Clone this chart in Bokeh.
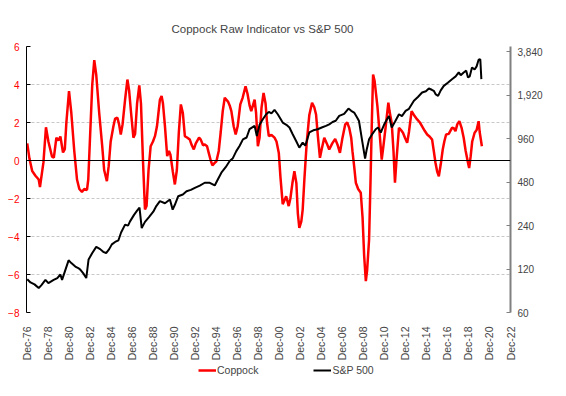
import math
from bokeh.plotting import figure
from bokeh.layouts import column
from bokeh.models import (Range1d, LogScale, LogAxis, FixedTicker, NumeralTickFormatter,
                          CustomJSTickFormatter, Span, Legend, LegendItem)
from bokeh.embed import file_html
from bokeh.resources import INLINE

FONT = "Liberation Sans"

# Coppock raw indicator (decimal year, value)
cop_date = [1976.99, 1977.20, 1977.46, 1977.77, 1978.08, 1978.20, 1978.53, 1978.77, 1979.00, 1979.35,
            1979.52, 1979.76, 1979.95, 1980.14, 1980.39, 1980.56, 1980.71, 1980.96, 1981.18, 1981.46,
            1981.72, 1981.94, 1982.19, 1982.41, 1982.67, 1982.79, 1982.98, 1983.17, 1983.36, 1983.55,
            1983.83, 1984.11, 1984.30, 1984.56, 1984.73, 1984.92, 1985.18, 1985.34, 1985.56, 1985.72,
            1985.88, 1986.05, 1986.29, 1986.51, 1986.67, 1986.86, 1987.08, 1987.24, 1987.43, 1987.64,
            1987.80, 1987.99, 1988.18, 1988.33, 1988.52, 1988.72, 1988.94, 1989.13, 1989.32, 1989.46,
            1989.60, 1989.76, 1989.89, 1990.08, 1990.29, 1990.46, 1990.60, 1990.83, 1991.02, 1991.21,
            1991.40, 1991.59, 1991.78, 1991.97, 1992.21, 1992.44, 1992.63, 1992.82, 1993.01, 1993.32,
            1993.48, 1993.70, 1993.86, 1994.08, 1994.24, 1994.43, 1994.59, 1994.76, 1994.97, 1995.19,
            1995.38, 1995.57, 1995.76, 1996.07, 1996.23, 1996.39, 1996.61, 1996.80, 1996.99, 1997.24,
            1997.46, 1997.74, 1997.93, 1998.12, 1998.28, 1998.60, 1998.74, 1998.91, 1999.07, 1999.26,
            1999.45, 1999.64, 1999.78, 1999.95, 2000.20, 2000.49, 2000.68, 2000.90, 2001.06, 2001.27,
            2001.43, 2001.60, 2001.84, 2002.00, 2002.19, 2002.38, 2002.57, 2002.71, 2002.85, 2003.04,
            2003.17, 2003.33, 2003.55, 2003.80, 2004.06, 2004.27, 2004.44, 2004.61, 2004.81, 2004.98,
            2005.22, 2005.46, 2005.69, 2005.98, 2006.26, 2006.50, 2006.71, 2006.92, 2007.21, 2007.40,
            2007.59, 2007.78, 2007.90, 2008.06, 2008.22, 2008.44, 2008.69, 2008.86, 2009.01, 2009.17,
            2009.29, 2009.48, 2009.62, 2009.74, 2009.86, 2010.00, 2010.27, 2010.47, 2010.68, 2010.85,
            2011.06, 2011.31, 2011.42, 2011.63, 2011.80, 2011.94, 2012.08, 2012.32, 2012.51, 2012.70,
            2012.89, 2013.10, 2013.27, 2013.52, 2013.74, 2014.05, 2014.31, 2014.52, 2014.78, 2015.00,
            2015.25, 2015.47, 2015.63, 2015.79, 2015.96, 2016.11, 2016.29, 2016.48, 2016.63, 2016.80,
            2017.05, 2017.36, 2017.53, 2017.69, 2017.86, 2018.06, 2018.28, 2018.47, 2018.66, 2018.88,
            2018.99, 2019.13, 2019.28, 2019.51, 2019.70, 2019.89, 2019.99, 2020.20]
cop_value = [0.9, 0.1, -0.55, -0.8, -1.0, -1.4, -0.1, 1.75, 1.0, 0.2,
             0.15, 1.2, 1.05, 1.26, 0.42, 0.6, 2.0, 3.65, 2.5, 0.5,
             -1.0, -1.5, -1.65, -1.5, -1.55, -1.0, 1.5, 4.0, 5.28, 4.5,
             2.5, 0.8, -0.5, -1.09, -0.3, 1.0, 1.8, 2.2, 2.25, 1.9,
             1.37, 1.9, 3.2, 4.26, 3.7, 2.5, 1.2, 1.4, 3.0, 3.95,
             3.0, 0.0, -2.58, -2.4, -0.5, 0.75, 1.0, 1.28, 1.8, 2.5,
             3.2, 3.4, 3.0, 1.8, 0.23, 0.5, 0.3, -0.6, -1.26, -0.5,
             1.5, 2.95, 2.5, 1.28, 1.2, 1.1, 0.8, 0.58, 0.9, 1.2,
             1.1, 0.8, 0.85, 0.75, 0.4, 0.0, -0.26, -0.15, -0.04, 0.5,
             1.5, 2.6, 3.3, 3.1, 2.9, 2.6, 1.8, 1.37, 1.8, 2.95,
             3.3, 3.9, 3.5, 2.9, 2.6, 3.2, 2.5, 0.75, 1.2, 2.8,
             3.56, 3.0, 2.0, 1.28, 1.35, 1.2, 1.0, 0.4, -0.9, -2.3,
             -2.1, -1.88, -2.4, -2.0, -1.2, -0.56, -1.2, -2.8, -3.54, -3.2,
             -2.58, -1.0, 0.93, 2.4, 3.04, 2.8, 2.42, 1.3, 0.14, 0.6,
             1.2, 0.9, 0.58, 0.9, 1.14, 0.8, 0.4, 1.1, 1.9, 2.0,
             1.72, 1.2, 0.49, -0.3, -1.17, -1.5, -1.7, -3.0, -5.0, -6.35,
             -5.8, -4.16, -1.0, 2.0, 4.53, 4.2, 2.86, 1.5, 0.05, 0.8,
             1.8, 3.04, 2.6, 1.98, 0.5, -1.17, 0.0, 1.72, 1.6, 1.46,
             1.2, 0.93, 1.5, 2.6, 2.4, 2.16, 2.0, 1.8, 1.55, 1.37,
             1.25, 1.1, 0.5, -0.12, -0.6, -0.83, -0.2, 0.58, 1.0, 1.37,
             1.4, 1.72, 1.7, 1.54, 1.9, 2.07, 1.7, 1.2, 0.5, -0.12,
             -0.4, 0.2, 1.0, 1.46, 1.6, 2.07, 1.5, 0.75]

# S&P 500 (decimal year, index level)
sp_date = [1976.99, 1977.30, 1977.68, 1978.08, 1978.34, 1978.72, 1979.00, 1979.50, 1979.85, 1980.14,
           1980.30, 1980.61, 1980.92, 1981.18, 1981.56, 1981.84, 1982.03, 1982.32, 1982.60, 1982.82,
           1983.17, 1983.55, 1983.92, 1984.21, 1984.49, 1984.78, 1985.03, 1985.34, 1985.66, 1985.91,
           1986.29, 1986.57, 1986.76, 1987.14, 1987.43, 1987.66, 1987.87, 1987.99, 1988.18, 1988.56,
           1988.97, 1989.22, 1989.60, 1990.08, 1990.55, 1990.81, 1991.02, 1991.34, 1991.78, 1992.13,
           1992.54, 1992.92, 1993.39, 1993.86, 1994.34, 1994.81, 1995.09, 1995.44, 1995.85, 1996.23,
           1996.51, 1996.86, 1997.18, 1997.49, 1997.84, 1998.12, 1998.60, 1998.81, 1999.07, 1999.38,
           1999.70, 1999.95, 2000.20, 2000.49, 2000.80, 2001.27, 2001.62, 2001.91, 2002.22, 2002.57,
           2002.85, 2003.17, 2003.42, 2003.80, 2004.18, 2004.59, 2004.98, 2005.38, 2005.69, 2006.01,
           2006.31, 2006.64, 2007.11, 2007.52, 2007.78, 2008.06, 2008.34, 2008.52, 2008.85, 2009.10,
           2009.24, 2009.48, 2009.76, 2010.11, 2010.33, 2010.59, 2010.90, 2011.18, 2011.37, 2011.63,
           2011.94, 2012.32, 2012.60, 2012.95, 2013.27, 2013.74, 2014.12, 2014.52, 2014.88, 2015.16,
           2015.44, 2015.63, 2015.82, 2016.04, 2016.29, 2016.58, 2016.96, 2017.36, 2017.71, 2018.00,
           2018.19, 2018.47, 2018.71, 2018.88, 2019.04, 2019.26, 2019.51, 2019.70, 2019.89, 2020.05,
           2020.15]
sp_value = [102, 97, 94, 88.6, 93, 101, 96, 101, 104, 110,
            101, 118, 138, 132, 125, 122, 119, 112, 104, 140,
            155, 171, 165, 158, 155, 165, 178, 185, 190, 215,
            244, 240, 257, 285, 305, 320, 231, 240, 255, 275,
            300, 325, 355, 343, 364, 310, 335, 384, 395, 416,
            425, 439, 455, 476, 476, 456, 500, 559, 610, 673,
            700, 789, 860, 952, 980, 1119, 1180, 1005, 1200, 1311,
            1421, 1474, 1440, 1522, 1421, 1244, 1200, 1150, 1033, 920,
            834, 903, 860, 1062, 1100, 1119, 1150, 1180, 1210, 1256,
            1280, 1383, 1430, 1556, 1500, 1460, 1350, 1276, 903, 700,
            800, 952, 1030, 1119, 1150, 1062, 1200, 1311, 1383, 1150,
            1260, 1421, 1380, 1498, 1550, 1760, 1870, 2010, 2050, 2144,
            2100, 2064, 1950, 1904, 2080, 2234, 2350, 2487, 2600, 2769,
            2650, 2769, 2850, 2555, 2600, 3000, 2900, 3050, 3390, 3420,
            2487]

series_names = ["Coppock", "S&P 500"]
series_colors = ["#ff0000", "black"]
left_ticks = [-8, -6, -4, -2, 0, 2, 4, 6]
right_ticks = [60, 120, 240, 480, 960, 1920, 3840]
x_ticks = [1976.92 + 2 * k for k in range(24)]  # Dec-76 ... Dec-22

p = figure(frame_width=484, frame_height=266, output_backend="svg", toolbar_location=None,
           x_range=Range1d(1976.92, 2022.92), y_range=Range1d(-8, 6),
           min_border_left=26, min_border_right=40, min_border_top=46, min_border_bottom=50)
p.extra_y_ranges = {"sp": Range1d(60, 4190)}
p.extra_y_scales = {"sp": LogScale()}

p.title.text = "Coppock Raw Indicator vs S&P 500"
p.title.align = "left"
p.title.offset = 145
p.title.text_font = FONT
p.title.text_font_size = "11.5px"
p.title.text_font_style = "normal"
p.title.standoff = 23

p.outline_line_color = None
p.background_fill_color = "white"
p.border_fill_color = "white"

# x axis
xa = p.xaxis[0]
xa.ticker = FixedTicker(ticks=x_ticks)
xa.formatter = CustomJSTickFormatter(code="""
const yr = Math.round(tick - 0.92);
const s = String(((yr % 100) + 100) % 100).padStart(2, '0');
return 'Dec-' + s;
""")
xa.major_label_orientation = math.pi / 2
xa.axis_line_color = None
xa.major_tick_line_color = None
xa.minor_tick_line_color = None
xa.major_label_text_font = FONT
xa.major_label_text_font_size = "10.5px"
xa.major_label_standoff = 8

# left axis
ya = p.yaxis[0]
ya.ticker = FixedTicker(ticks=left_ticks)
ya.major_label_text_color = "#ff0000"
ya.major_label_text_font = FONT
ya.major_label_text_font_size = "10px"
ya.axis_line_color = "black"
ya.major_tick_in = 4
ya.major_tick_out = 0
ya.minor_tick_line_color = None
ya.major_label_standoff = 7

# right log axis
ra = LogAxis(y_range_name="sp", ticker=FixedTicker(ticks=right_ticks),
             formatter=NumeralTickFormatter(format="0,0"))
ra.axis_line_color = "#808080"
ra.axis_line_width = 2
ra.major_tick_line_color = "#808080"
ra.major_tick_in = 4
ra.major_tick_out = 0
ra.minor_tick_line_color = None
ra.major_label_text_font = FONT
ra.major_label_text_font_size = "10px"
ra.major_label_standoff = 7
p.add_layout(ra, "right")

p.xgrid.grid_line_color = None
p.ygrid.ticker = FixedTicker(ticks=left_ticks)
p.ygrid.grid_line_color = "#c8c8c8"
p.ygrid.grid_line_dash = "3 2"

p.add_layout(Span(location=0, dimension="width", line_color="black", line_width=1))

p.line(cop_date, cop_value, line_color=series_colors[0], line_width=2.5)
p.line(sp_date, sp_value, line_color=series_colors[1], line_width=2, y_range_name="sp")

# legend strip (separate small figure so the legend is not clipped by the plot frame);
# its lines carry the same data but fall outside this strip's ranges, so only the legend shows
lg = figure(width=550, height=24, output_backend="svg", toolbar_location=None,
            x_range=Range1d(0, 1), y_range=Range1d(0, 1),
            min_border_left=0, min_border_right=0, min_border_top=0, min_border_bottom=0)
lg.axis.visible = False
lg.grid.visible = False
lg.outline_line_color = None
lg.border_fill_color = "white"
lg.background_fill_color = "white"
proxies = [lg.line(cop_date, cop_value, line_color=series_colors[0], line_width=2.5),
           lg.line(sp_date, sp_value, line_color=series_colors[1], line_width=2)]
legend = Legend(items=[LegendItem(label=n, renderers=[r]) for n, r in zip(series_names, proxies)],
                orientation="horizontal", location=(172, 11),
                border_line_color=None, background_fill_alpha=0,
                label_text_font=FONT, label_text_font_size="10.5px",
                glyph_width=18, glyph_height=12, label_standoff=1, spacing=55, margin=0, padding=0)
lg.add_layout(legend)

layout = column(p, lg, spacing=0)
open("out.html", "w").write(file_html(layout, INLINE))
